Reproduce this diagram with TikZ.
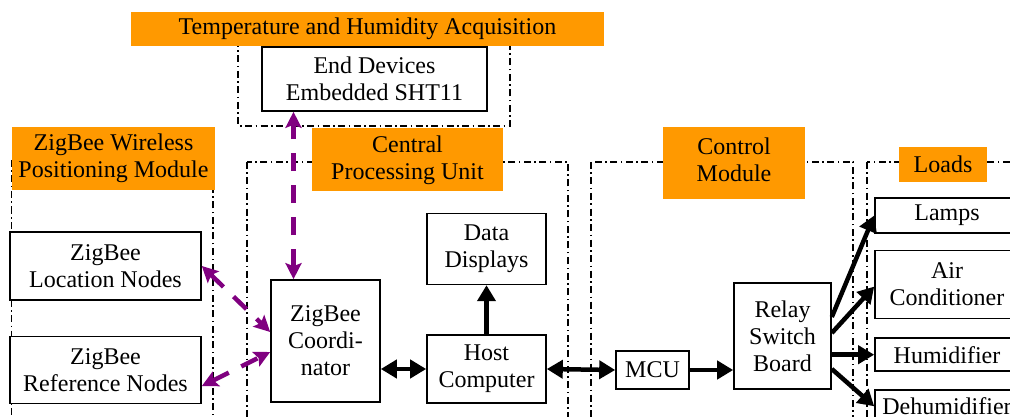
\documentclass[tikz,border=0pt]{standalone}
\usepackage{fontspec}
\setmainfont{Liberation Serif}
\usetikzlibrary{arrows.meta, positioning}
\definecolor{tagorange}{RGB}{255,153,0}
\definecolor{wirelesspurple}{RGB}{128,0,128}

\begin{document}
\begin{tikzpicture}[x=1pt, y=-1pt, font=\fontsize{24}{27}\selectfont,
	main/.style = {draw, line width=1.6pt, fill=white, align=center, inner sep=0pt},
	tag/.style = {fill=tagorange, align=center, inner sep=0pt},
	zone/.style = {line width=1.2pt, dash pattern=on 7pt off 3.5pt on 1.5pt off 3.5pt},
	link/.style = {line width=4.5pt, -{Triangle[length=16pt,width=18pt]}},
	both/.style = {line width=4.5pt, {Triangle[length=16pt,width=18pt]}-{Triangle[length=16pt,width=18pt]}},
	radio/.style = {wirelesspurple, line width=4.5pt, dash pattern=on 18pt off 14pt,
		{Stealth[length=16pt,width=16pt,inset=3pt]}-{Stealth[length=16pt,width=16pt,inset=3pt]}}]
	\useasboundingbox (0,0) rectangle (1010,417);
	\clip (0,0) rectangle (1010,417);
	% module frames
	\draw[zone] (238,40) rectangle (510,126);
	\draw[zone] (11.5,160) rectangle (213,440);
	\draw[zone] (247,162) rectangle (568,440);
	\draw[zone] (591,162) rectangle (853,440);
	\draw[zone] (867,162) rectangle (1040,440);
	% module titles
	\node[tag, minimum width=473pt, minimum height=34pt] (tTemp) at (367.5,29) {Temperature and Humidity Acquisition};
	\node[tag, minimum width=203pt, minimum height=63pt] (tZig) at (113.5,158.5) {ZigBee Wireless\\Positioning Module};
	\node[tag, minimum width=191pt, minimum height=63pt] (tCPU) at (407.5,160) {Central\\Processing Unit};
	\node[tag, minimum width=142pt, minimum height=72pt, text depth=6pt] (tCtrl) at (734,163) {Control\\Module};
	\node[tag, minimum width=88pt, minimum height=35pt] (tLoad) at (943,164.5) {Loads};
	% blocks
	\node[main, minimum width=225pt, minimum height=64pt] (dev) at (374.5,79) {End Devices\\Embedded SHT11};
	\node[main, minimum width=191pt, minimum height=68pt] (loc) at (105.5,266) {ZigBee\\Location Nodes};
	\node[main, minimum width=191pt, minimum height=67pt] (ref) [below=35pt of loc] {ZigBee\\Reference Nodes};
	\node[main, minimum width=109pt, minimum height=122pt] (coord) at (325.5,341) {ZigBee\\Coordi-\\nator};
	\node[main, minimum width=119pt, minimum height=68pt] (host) at (486.5,369) {Host\\Computer};
	\node[main, minimum width=119pt, minimum height=71pt] (disp) [above=49pt of host] {Data\\Displays};
	\node[main, minimum width=73pt, minimum height=38pt] (mcu) at (652.5,370) {MCU};
	\node[main, minimum width=97pt, minimum height=106pt] (relay) at (782.5,336) {Relay\\Switch\\Board};
	\node[main, minimum width=144pt, minimum height=35pt] (lamps) at (947,215.5) {Lamps};
	\node[main, minimum width=144pt, minimum height=68pt] (air) [below=16pt of lamps] {Air\\Conditioner};
	\node[main, minimum width=144pt, minimum height=33pt] (hum) [below=18pt of air] {Humidifier};
	\node[main, minimum width=144pt, minimum height=33pt] (dehum) [below=17pt of hum] {Dehumidifier};
	% wireless links
	\draw[radio] ([xshift=-32pt]coord.north) -- ([xshift=-32pt]coord.north |- dev.south);
	\draw[radio] (loc.east) -- ([yshift=9pt]coord.west);
	\draw[radio] ([yshift=-16pt]ref.east) -- ([yshift=-11pt]coord.west);
	% wired links
	\path
	(coord.east |- host.west) edge[both] (host.west)
	(host.north) edge[link] (disp.south)
	(host.east) edge[both] (mcu.west)
	(mcu.east) edge[link] (mcu.east -| relay.west)
	([yshift=19pt]relay.east) edge[link] (lamps.west)
	([yshift=3pt]relay.east) edge[link] ([yshift=-2pt]air.west)
	(relay.east |- hum.west) edge[link] (hum.west)
	([yshift=-33pt]relay.east) edge[link] (dehum.west);
\end{tikzpicture}
\end{document}
